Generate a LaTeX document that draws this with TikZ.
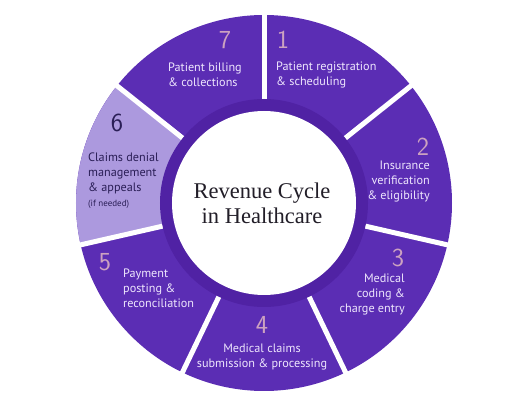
\documentclass[tikz,border=0pt]{standalone}
\usepackage{fontspec}
\setmainfont{PT Sans}
\newfontfamily\titlefont{Liberation Serif}
\usetikzlibrary{arrows}

\definecolor{ringpurple}{RGB}{91,45,180}
\definecolor{ringdark}{RGB}{80,34,164}
\definecolor{lavender}{RGB}{172,153,222}
\definecolor{numpink}{RGB}{204,162,192}
\definecolor{labeltext}{RGB}{238,230,253}
\definecolor{darkink}{RGB}{42,30,86}
\definecolor{titleink}{RGB}{34,30,40}

\begin{document}
\begin{tikzpicture}[x=1pt,y=1pt,>=latex,
    steplabel/.style={text=labeltext, font=\fontsize{12.2}{15}\selectfont, inner sep=0pt},
    stepnum/.style={text=numpink, font=\sffamily\fontsize{26}{26}\selectfont, inner sep=0pt}]
        \useasboundingbox (-264,-203) rectangle (266,203);

        \fill[ringpurple] (0,0) circle (188);
        \fill[lavender] (0,0) -- (141.43:188) arc (141.43:192.86:188) -- cycle;
        \foreach \k in {0,...,6}
            \draw[white, line width=5pt] ({90-\k*360/7}:100) -- ({90-\k*360/7}:195);
        \fill[ringdark] (0,0) circle (104);
        \fill[white] (0,0) circle (92);

        \node[font=\titlefont\fontsize{22.5}{25}\selectfont, align=center, text=titleink] (title) at (-2,0) {Revenue Cycle\\in Healthcare};

        \node[stepnum] (n7) at (-39,163) {7};
        \node[steplabel, anchor=west, align=left] (s7) at (-96,128) {Patient billing\\\& collections};
        \node[stepnum] (n1) at (19,163) {1};
        \node[steplabel, anchor=west, align=left] (s1) at (12,128) {Patient registration\\\& scheduling};
        \node[stepnum] (n2) at (159,56) {2};
        \node[steplabel, anchor=east, align=right] (s2) at (166,21) {Insurance\\verification\\\& eligibility};
        \node[stepnum] (n3) at (134,-55) {3};
        \node[steplabel, anchor=east, align=right] (s3) at (141,-91) {Medical\\coding \&\\charge entry};
        \node[stepnum] (n4) at (-2,-122) {4};
        \node[steplabel, align=center] (s4) at (-2,-153.5) {Medical claims\\submission \& processing};
        \node[stepnum] (n5) at (-159,-59) {5};
        \node[steplabel, anchor=west, align=left] (s5) at (-141,-85) {Payment\\posting \&\\reconciliation};
        \node[stepnum, text=darkink] (n6) at (-147,80) {6};
        \node[steplabel, text=darkink, anchor=west, align=left] (s6) at (-176,30) {Claims denial\\management\\\& appeals};
        \node[text=darkink, font=\fontsize{9}{9}\selectfont, anchor=west, inner sep=0pt] (s6note) at (-176,-1) {(if needed)};
    \end{tikzpicture}
\end{document}
